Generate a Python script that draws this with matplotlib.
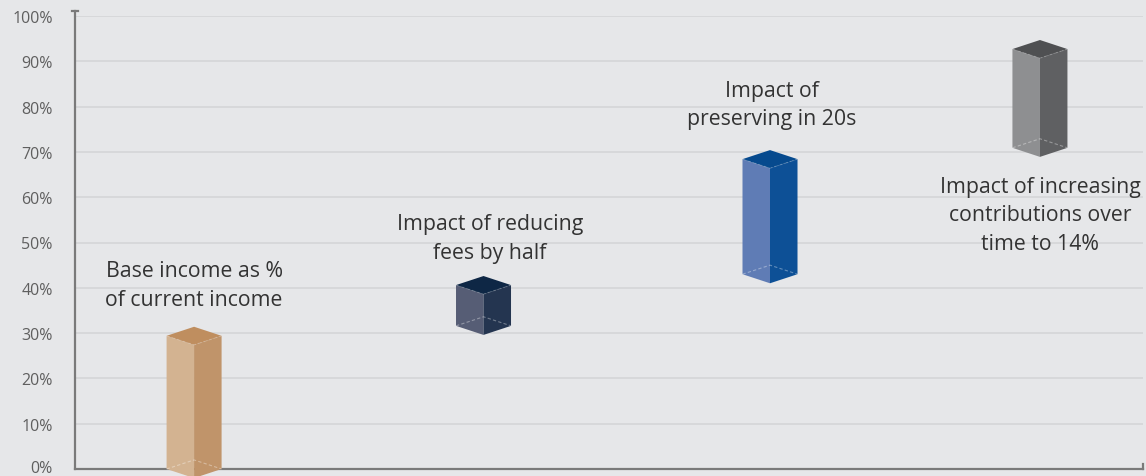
import matplotlib
matplotlib.use("Agg")
import matplotlib.pyplot as plt
from matplotlib.patches import Polygon
from matplotlib.lines import Line2D
from matplotlib.transforms import ScaledTranslation

# ---- data ----
categories = ["Base income as %\nof current income",
              "Impact of reducing\nfees by half",
              "Impact of\npreserving in 20s",
              "Impact of increasing\ncontributions over\ntime to 14%"]
bar_start = [0.0, 31.6, 43.0, 70.9]
bar_end = [29.4, 40.6, 68.4, 92.7]
y_ticks = [0, 10, 20, 30, 40, 50, 60, 70, 80, 90, 100]
y_tick_labels = [f"{v}%" for v in y_ticks]

# ---- layout / style ----
x_pos = [0.446, 1.530, 2.603, 3.614]
label_x = [0.446, 1.554, 2.610, 3.614]
label_y = [40.6, 51.0, 80.4, 56.1]
half_w = 0.103
half_h = 2.0
face_left = ["#d3b391", "#565d75", "#5f7cb5", "#8e8f91"]
face_right = ["#c0946a", "#243550", "#0d5096", "#5f6062"]
face_top = ["#bf8e5f", "#0e2745", "#064a8e", "#4f5052"]
bg = "#e6e7e9"

plt.rcParams['font.family'] = ['Open Sans', 'DejaVu Sans']

fig = plt.figure(figsize=(11.46, 4.77), dpi=100, facecolor=bg)
ax = fig.add_axes([75/1146, 7/477, (1143-75)/1146, (470-17)/477])
ax.set_facecolor(bg)
ax.set_xlim(0, 4)
ax.set_ylim(0, 100)

ax.set_yticks(y_ticks)
ax.set_yticklabels(y_tick_labels, fontsize=11.5, color="#5f5f5f")
ax.tick_params(axis='y', length=0, pad=16)
ax.set_xticks([])
# nudge the 0% label up slightly so it stays inside the figure
lbl0 = ax.get_yticklabels()[0]
lbl0.set_transform(lbl0.get_transform() + ScaledTranslation(0, 2/72, fig.dpi_scale_trans))
for y in y_ticks[1:]:
    ax.axhline(y, color="#d3d4d6", lw=1.1, zorder=0)

for s in ["top", "right"]:
    ax.spines[s].set_visible(False)
for s in ["left", "bottom"]:
    ax.spines[s].set_color("#7a7a7a")
    ax.spines[s].set_linewidth(1.6)
ax.spines["left"].set_bounds(0, 101)

# spine end caps
ax.add_line(Line2D([-0.012, 0.012], [101, 101], color="#7a7a7a", lw=1.6, clip_on=False))
ax.add_line(Line2D([4, 4], [0, 1.2], color="#7a7a7a", lw=1.6, clip_on=False))

for i in range(len(bar_start)):
    cx, y0, y1 = x_pos[i], bar_start[i], bar_end[i]
    left = Polygon([(cx - half_w, y1), (cx, y1 - half_h), (cx, y0 - half_h), (cx - half_w, y0)],
                   closed=True, facecolor=face_left[i], edgecolor='none', clip_on=False, zorder=3)
    right = Polygon([(cx, y1 - half_h), (cx + half_w, y1), (cx + half_w, y0), (cx, y0 - half_h)],
                    closed=True, facecolor=face_right[i], edgecolor='none', clip_on=False, zorder=3)
    top = Polygon([(cx - half_w, y1), (cx, y1 + half_h), (cx + half_w, y1), (cx, y1 - half_h)],
                  closed=True, facecolor=face_top[i], edgecolor='none', clip_on=False, zorder=3)
    for p in (left, right, top):
        ax.add_patch(p)
    # hidden back edges of the bottom face
    ax.add_line(Line2D([cx - half_w, cx, cx + half_w], [y0, y0 + half_h, y0],
                       color="white", alpha=0.35, lw=0.8, ls=(0, (3, 2)), zorder=4, clip_on=False))
    # front edges of the top face
    ax.add_line(Line2D([cx - half_w, cx, cx + half_w], [y1, y1 - half_h, y1],
                       color="white", alpha=0.18, lw=0.8, ls=(0, (3, 2)), zorder=4, clip_on=False))
    ax.text(label_x[i], label_y[i], categories[i], ha='center', va='center',
            fontsize=15.3, color="#333333", linespacing=1.46, zorder=5)

fig.savefig("out.png", dpi=100, facecolor=bg)
